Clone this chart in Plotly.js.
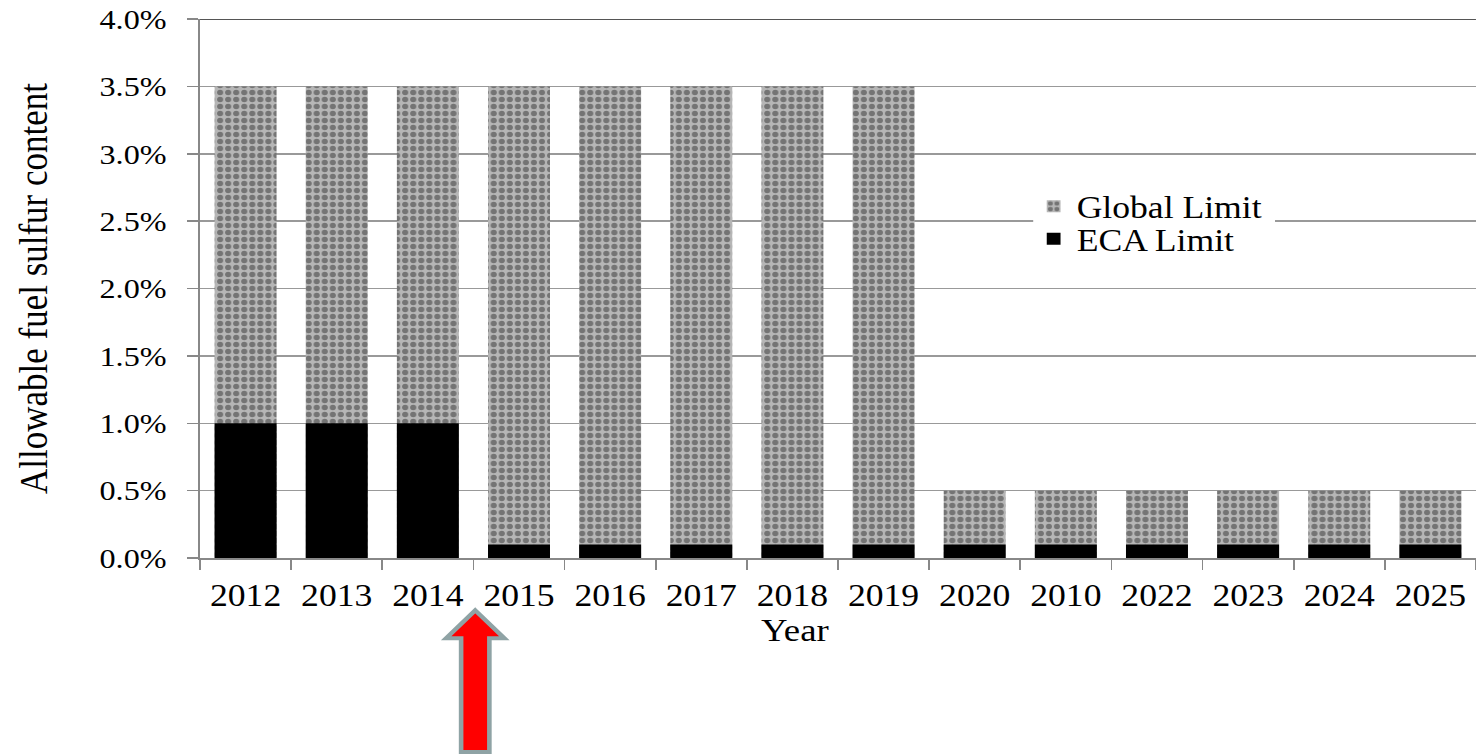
<!DOCTYPE html>
<html>
<head>
<meta charset="utf-8">
<script src="https://cdn.plot.ly/plotly-3.0.1.min.js"></script>
<style>
  html, body { margin: 0; padding: 0; background: #fff; overflow: hidden; }
  /* The figure is laid out narrower and widened horizontally, giving the broad serif lettering */
  #chart { width: 1284px; height: 754px; transform: scaleX(1.1495); transform-origin: 0 0; }
</style>
</head>
<body>
<div id="chart"></div>
<script>
// Year labels along the x axis (as printed, including "2010" in the 2021 slot)
const years = ['2012', '2013', '2014', '2015', '2016', '2017', '2018', '2019',
               '2020', '2010', '2022', '2023', '2024', '2025'];

// Allowable fuel sulfur content, in percent
const globalLimit = [3.5, 3.5, 3.5, 3.5, 3.5, 3.5, 3.5, 3.5,
                     0.5, 0.5, 0.5, 0.5, 0.5, 0.5];
const ecaLimit = [1.0, 1.0, 1.0, 0.1, 0.1, 0.1, 0.1, 0.1,
                  0.1, 0.1, 0.1, 0.1, 0.1, 0.1];

const yTicks = [0, 0.5, 1.0, 1.5, 2.0, 2.5, 3.0, 3.5, 4.0];
const yTickText = yTicks.map(v => v.toFixed(1) + '%');

const serif = 'Liberation Serif, Times New Roman, serif';

const traces = [
  {
    type: 'bar',
    name: 'Global Limit',
    x: years,
    y: globalLimit,
    legend: 'legend',
    marker: {
      color: '#a8a8a8',
      line: { width: 0 },
      pattern: {
        shape: '.',
        fgcolor: '#747474',
        bgcolor: '#b6b6b6',
        size: 7,
        solidity: 0.45
      }
    },
    hoverinfo: 'x+y'
  },
  {
    type: 'bar',
    name: 'ECA Limit',
    x: years,
    y: ecaLimit,
    legend: 'legend2',
    marker: { color: '#000000', line: { width: 0 } },
    hoverinfo: 'x+y'
  }
];

// Block arrow pointing up at the 2014 / 2015 boundary (category index 2.5)
const ax = 2.52;
const headHalf = 0.32, shaftHalf = 0.155;
const tipY = -0.097, headBaseY = -0.149, tailY = -0.36;
const arrowPath =
  'M ' + ax + ' ' + tipY +
  ' L ' + (ax + headHalf) + ' ' + headBaseY +
  ' L ' + (ax + shaftHalf) + ' ' + headBaseY +
  ' L ' + (ax + shaftHalf) + ' ' + tailY +
  ' L ' + (ax - shaftHalf) + ' ' + tailY +
  ' L ' + (ax - shaftHalf) + ' ' + headBaseY +
  ' L ' + (ax - headHalf) + ' ' + headBaseY + ' Z';

// Two single-row legends, stacked tightly; a white panel behind them hides the grid
const legendBase = {
  xanchor: 'left', yanchor: 'top',
  bgcolor: 'rgba(0,0,0,0)',
  borderwidth: 0,
  font: { family: serif, size: 31, color: '#000' },
  itemwidth: 30
};

const layout = {
  width: 1284,
  height: 754,
  margin: { l: 174, r: 0, t: 19, b: 196, pad: 0 },
  paper_bgcolor: '#ffffff',
  plot_bgcolor: '#ffffff',
  barmode: 'overlay',
  bargap: 0.32,
  showlegend: true,
  legend: Object.assign({ x: 0.651, y: 0.702 }, legendBase),
  legend2: Object.assign({ x: 0.651, y: 0.6416 }, legendBase),
  xaxis: {
    type: 'category',
    tickson: 'boundaries',
    ticks: 'outside',
    ticklen: 10,
    tickwidth: 1.5,
    tickcolor: '#888',
    showline: true,
    linecolor: '#888',
    linewidth: 1.5,
    showgrid: false,
    tickfont: { family: serif, size: 31, color: '#000' },
    ticklabelstandoff: 9,
    fixedrange: true
  },
  yaxis: {
    range: [0, 4.0],
    tickvals: yTicks,
    ticktext: yTickText,
    ticks: 'outside',
    ticklen: 10,
    tickwidth: 1.5,
    tickcolor: '#888',
    showline: true,
    linecolor: '#888',
    linewidth: 1.5,
    showgrid: true,
    gridcolor: '#999',
    gridwidth: 1.5,
    zeroline: false,
    tickfont: { family: serif, size: 28, color: '#000' },
    ticklabelstandoff: 12,
    title: { text: 'Allowable fuel sulfur content', font: { family: serif, size: 35, color: '#000' }, standoff: 34 },
    fixedrange: true
  },
  annotations: [
    {
      text: 'Year', xref: 'paper', yref: 'paper',
      x: 0.466, y: -0.133, xanchor: 'center', yanchor: 'middle',
      showarrow: false,
      font: { family: serif, size: 32, color: '#000' }
    }
  ],
  shapes: [
    {
      type: 'line', xref: 'paper', yref: 'y',
      x0: 0, x1: 1, y0: 4.0, y1: 4.0,
      line: { color: '#555', width: 2 }
    },
    {
      type: 'rect', xref: 'paper', yref: 'paper',
      x0: 0.653, x1: 0.8425, y0: 0.562, y1: 0.683,
      fillcolor: '#ffffff',
      line: { width: 0 },
      layer: 'above'
    },
    {
      type: 'path', xref: 'x', yref: 'paper',
      path: arrowPath,
      fillcolor: '#ff0000',
      line: { color: '#8fa3a5', width: 4 },
      layer: 'above'
    }
  ]
};

Plotly.newPlot('chart', traces, layout, { displayModeBar: false, staticPlot: true });
</script>
</body>
</html>
